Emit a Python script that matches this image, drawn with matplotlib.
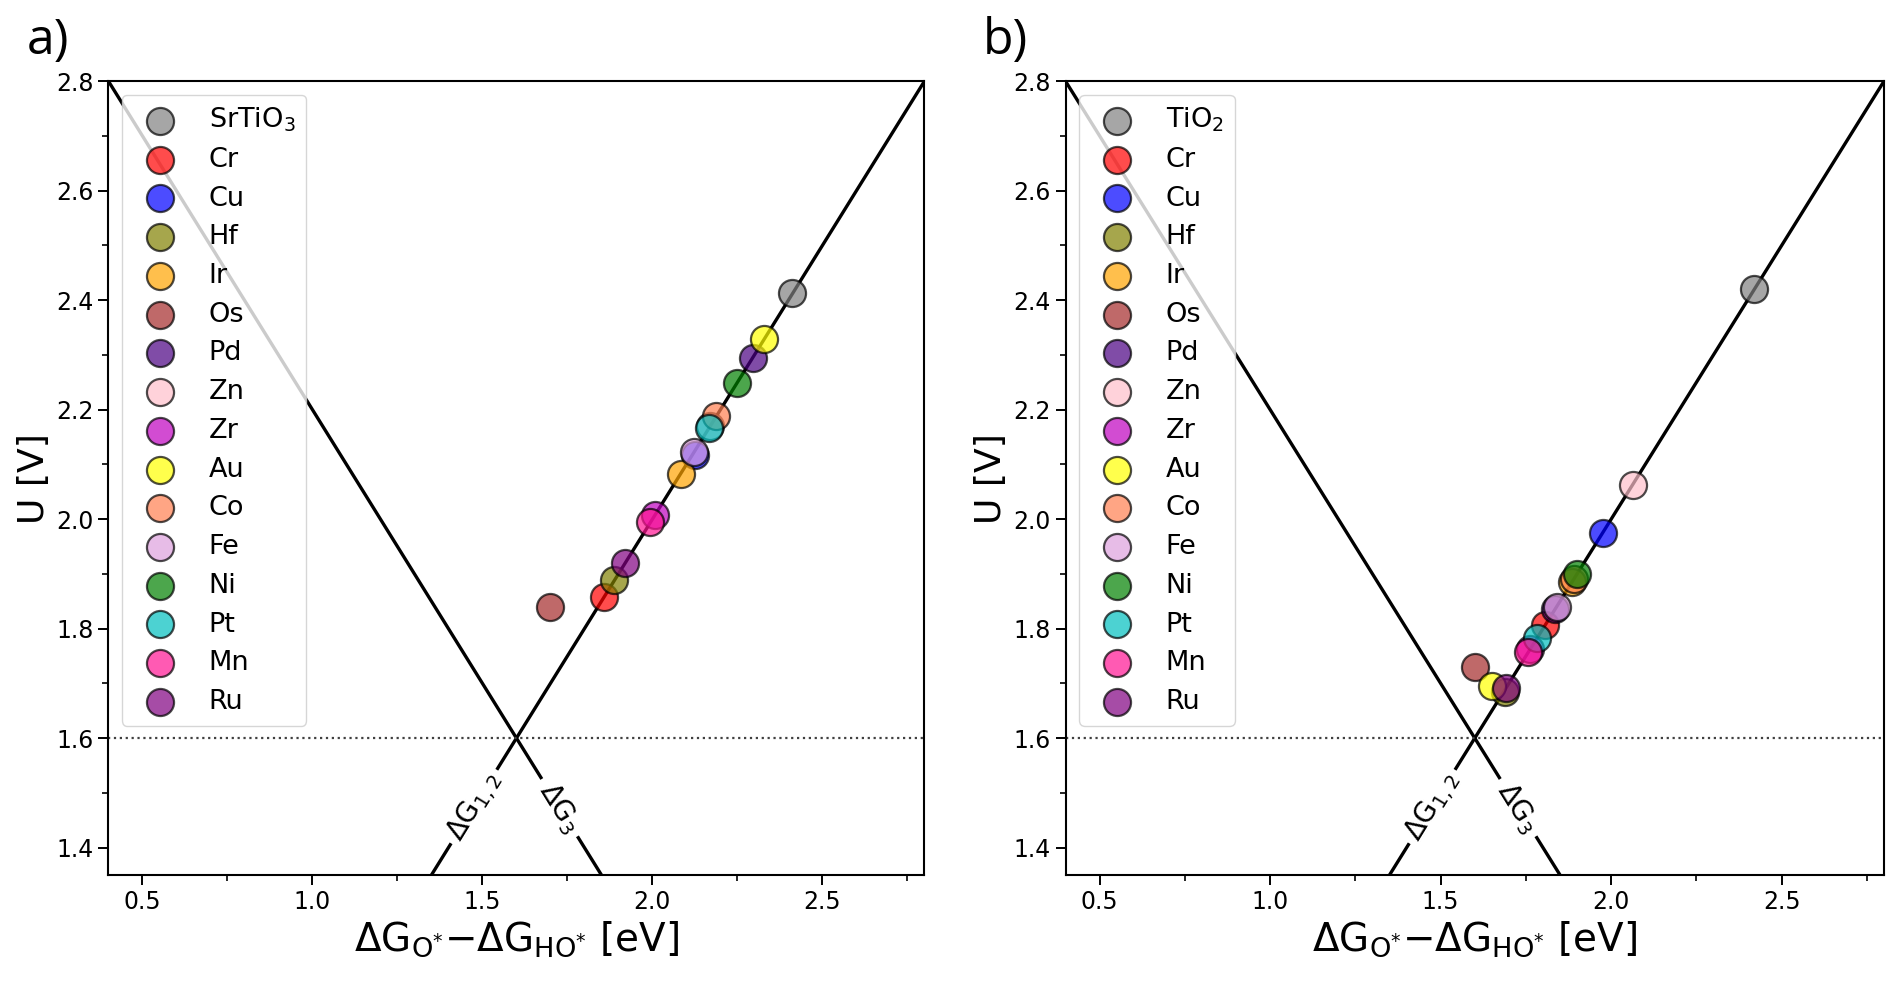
import matplotlib
matplotlib.use("Agg")
import matplotlib.pyplot as plt
import numpy as np
from matplotlib.ticker import MultipleLocator

plt.rcParams['mathtext.default'] = 'regular'
plt.rcParams['font.family'] = ['DejaVu Sans']

# ---- data ----
elements = ['Cr', 'Cu', 'Hf', 'Ir', 'Os', 'Pd', 'Zn', 'Zr', 'Au', 'Co', 'Fe', 'Ni', 'Pt', 'Mn', 'Ru']
colors = ['red', 'blue', 'olive', 'orange', 'brown', 'indigo', 'pink', 'm',
          'yellow', 'coral', 'plum', 'green', 'c', 'deeppink', 'purple']
host_color = 'grey'

labels_a = ['SrTiO$_3$'] + elements
x_a = [2.410, 1.858, 2.125, 1.888, 2.083, 1.700, 2.295, 2.170, 2.008, 2.329, 2.188, 2.123, 2.248, 2.166, 1.994, 1.920]
y_a = [2.414, 1.858, 2.118, 1.888, 2.083, 1.840, 2.295, 2.170, 2.008, 2.329, 2.188, 2.123, 2.248, 2.166, 1.994, 1.920]

labels_b = ['TiO$_2$'] + elements
x_b = [2.420, 1.806, 1.975, 1.690, 1.885, 1.600, 1.835, 2.063, 1.762, 1.650, 1.890, 1.840, 1.900, 1.782, 1.757, 1.692]
y_b = [2.420, 1.806, 1.975, 1.685, 1.885, 1.730, 1.835, 2.063, 1.762, 1.695, 1.890, 1.840, 1.900, 1.782, 1.757, 1.692]

U_ideal = 1.6
xlim = (0.4, 2.8)
ylim = (1.35, 2.8)

fig = plt.figure(figsize=(18.9, 9.86), dpi=100)
ax_a = fig.add_axes([0.0574, 0.1126, 0.4317, 0.805])
ax_b = fig.add_axes([0.5638, 0.1126, 0.4330, 0.805])


def draw(ax, labels, xs, ys):
    xx = np.linspace(xlim[0], xlim[1], 200)
    ax.plot(xx, xx, color='black', lw=2.4, zorder=1)
    ax.plot(xx, 2 * U_ideal - xx, color='black', lw=2.4, zorder=1)
    ax.axhline(U_ideal, color='0.25', ls=':', lw=1.6, zorder=1)
    cols = [host_color] + colors
    for lab, x, y, c in zip(labels, xs, ys, cols):
        ax.scatter([x], [y], s=380, color=c, alpha=0.7, edgecolors='black',
                   linewidths=1.6, label=lab, zorder=3)
    # inline line labels
    ang = 58.4
    ax.text(1.475, 1.475, r'$\Delta G_{1,2}$', rotation=ang, ha='center', va='center',
            fontsize=20, zorder=2,
            bbox=dict(boxstyle='square,pad=0.2', fc='white', ec='none'))
    ax.text(1.727, 2 * U_ideal - 1.727, r'$\Delta G_{3}$', rotation=-ang, ha='center', va='center',
            fontsize=20, zorder=2,
            bbox=dict(boxstyle='square,pad=0.25', fc='white', ec='none'))
    ax.set_xlim(*xlim)
    ax.set_ylim(*ylim)
    ax.xaxis.set_major_locator(MultipleLocator(0.5))
    ax.xaxis.set_minor_locator(MultipleLocator(0.25))
    ax.yaxis.set_major_locator(MultipleLocator(0.2))
    ax.yaxis.set_minor_locator(MultipleLocator(0.1))
    ax.tick_params(which='major', length=7, width=1.4, labelsize=17)
    ax.tick_params(which='minor', length=4, width=1.2)
    for sp in ax.spines.values():
        sp.set_linewidth(1.5)
    ax.set_xlabel(r'$\Delta G_{O^{*}}{-}\Delta G_{HO^{*}}$ [eV]', fontsize=28)
    ax.set_ylabel('U [V]', fontsize=26)
    leg = ax.legend(loc='upper left', fontsize=19.5, scatterpoints=1, labelspacing=0.47,
                    handletextpad=0.8)
    leg.set_zorder(5)


draw(ax_a, labels_a, x_a, y_a)
draw(ax_b, labels_b, x_b, y_b)

fig.text(0.014, 0.983, 'a)', fontsize=36, family='Open Sans', va='top', ha='left')
fig.text(0.52, 0.983, 'b)', fontsize=36, family='Open Sans', va='top', ha='left')

fig.savefig('out.png', dpi=100)
